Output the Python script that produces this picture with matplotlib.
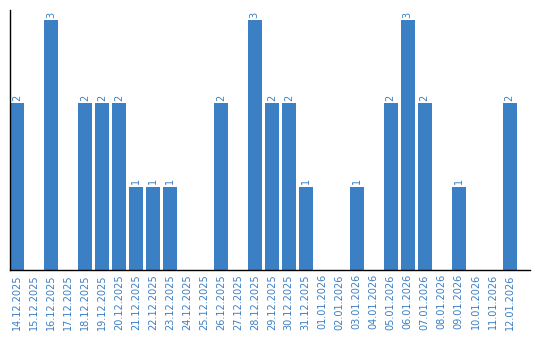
import matplotlib
matplotlib.use('Agg')
import matplotlib.pyplot as plt

dates = ['14.12.2025', '15.12.2025', '16.12.2025', '17.12.2025', '18.12.2025',
         '19.12.2025', '20.12.2025', '21.12.2025', '22.12.2025', '23.12.2025',
         '24.12.2025', '25.12.2025', '26.12.2025', '27.12.2025', '28.12.2025',
         '29.12.2025', '30.12.2025', '31.12.2025', '01.01.2026', '02.01.2026',
         '03.01.2026', '04.01.2026', '05.01.2026', '06.01.2026', '07.01.2026',
         '08.01.2026', '09.01.2026', '10.01.2026', '11.01.2026', '12.01.2026']
counts = [2, 0, 3, 0, 2, 2, 2, 1, 1, 1,
          0, 0, 2, 0, 3, 2, 2, 1, 0, 0,
          1, 0, 2, 3, 2, 0, 1, 0, 0, 2]

color = '#3b7fc4'

fig = plt.figure(figsize=(5.4, 3.4), dpi=100)
ax = fig.add_axes([10 / 540, 70 / 340, 520 / 540, 260 / 340])

x = list(range(len(dates)))
ax.bar(x, counts, width=0.82, color=color)
for xi, c in zip(x, counts):
    if c > 0:
        ax.text(xi, c + 0.03, str(c), rotation=90, ha='center', va='bottom',
                fontsize=7, color=color)

ax.set_xlim(-0.41, 30.2)
ax.set_ylim(0, 3.12)
ax.set_xticks(x)
ax.set_xticklabels(dates, rotation=90, fontsize=7, color=color)
ax.tick_params(axis='x', length=0, pad=3)
ax.set_yticks([])
ax.spines['top'].set_visible(False)
ax.spines['right'].set_visible(False)
ax.spines['left'].set_linewidth(1)
ax.spines['bottom'].set_linewidth(1)

fig.savefig('out.png', dpi=100)
